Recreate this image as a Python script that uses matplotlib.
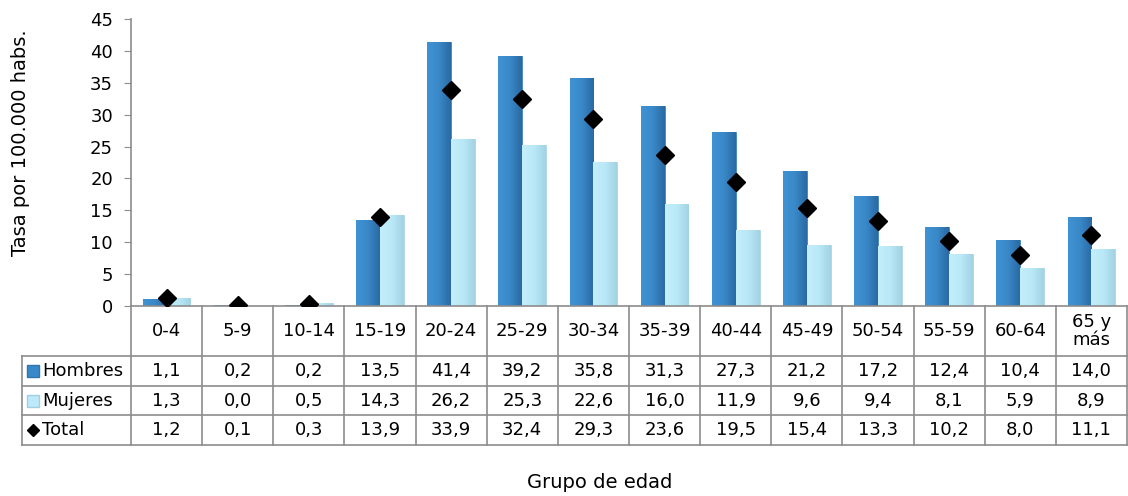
import numpy as np
import matplotlib
matplotlib.use('Agg')
import matplotlib.pyplot as plt
from matplotlib.colors import LinearSegmentedColormap

plt.rcParams['font.family'] = ['DejaVu Sans']

grupos = ['0-4', '5-9', '10-14', '15-19', '20-24', '25-29', '30-34', '35-39',
          '40-44', '45-49', '50-54', '55-59', '60-64', '65 y\nmás']
hombres = [1.1, 0.2, 0.2, 13.5, 41.4, 39.2, 35.8, 31.3, 27.3, 21.2, 17.2, 12.4, 10.4, 14.0]
mujeres = [1.3, 0.0, 0.5, 14.3, 26.2, 25.3, 22.6, 16.0, 11.9, 9.6, 9.4, 8.1, 5.9, 8.9]
total = [1.2, 0.1, 0.3, 13.9, 33.9, 32.4, 29.3, 23.6, 19.5, 15.4, 13.3, 10.2, 8.0, 11.1]
series = ['Hombres', 'Mujeres', 'Total']

W, H = 1128, 496
grid_col = '#8c8c8c'
fs = 13
fs_lab = 14

fig = plt.figure(figsize=(W / 100, H / 100), dpi=100)
ax = fig.add_axes([131 / W, (H - 306) / H, 996 / W, 287 / H])

n = len(grupos)
x = np.arange(n)
bw = 0.335

cm_h = LinearSegmentedColormap.from_list('h', ['#3f93d4', '#3a88c8', '#2a6aa3'])
cm_m = LinearSegmentedColormap.from_list('m', ['#c4eefb', '#b9e8f7', '#a3d2e3'])
grad = np.linspace(0, 1, 64).reshape(1, -1)

bars_h = ax.bar(x - bw / 2, hombres, bw, color='#3a88c8', edgecolor='#2f75b0', lw=0.5, zorder=2)
bars_m = ax.bar(x + bw / 2, mujeres, bw, color='#bde9f8', edgecolor='#9fcfe0', lw=0.5, zorder=2)
for bars, cm in ((bars_h, cm_h), (bars_m, cm_m)):
    for r in bars:
        if r.get_height() <= 0:
            continue
        im = ax.imshow(grad, extent=[r.get_x(), r.get_x() + r.get_width(), 0, r.get_height()],
                       aspect='auto', cmap=cm, zorder=2.5)
        im.set_clip_path(r)
ax.plot(x, total, 'D', color='black', markersize=9, zorder=4)

ax.set_xlim(-0.5, n - 0.5)
ax.set_ylim(0, 45)
ax.set_yticks(range(0, 46, 5))
ax.set_xticks([])
ax.tick_params(axis='y', labelsize=fs, length=5, pad=8, color=grid_col, direction='out')
for s in ('top', 'right'):
    ax.spines[s].set_visible(False)
for s in ('left', 'bottom'):
    ax.spines[s].set_color(grid_col)
    ax.spines[s].set_linewidth(1.2)

# tabla de datos
upp = 996 / n
x0 = -0.5 - 109 / upp
tax = fig.add_axes([22 / W, (H - 445) / H, 1105 / W, 139 / H])
tax.set_xlim(x0, n - 0.5)
tax.set_ylim(445, 306)
tax.axis('off')

rows_y = [356, 386, 415, 445]
kw = dict(color=grid_col, lw=1.2, clip_on=False)
for k in range(n + 1):
    tax.plot([k - 0.5, k - 0.5], [306, 445], **kw)
tax.plot([x0, x0], [356, 445], **kw)
for yy in rows_y:
    tax.plot([x0, n - 0.5], [yy, yy], **kw)

for i, g in enumerate(grupos):
    tax.text(i, 331, g, ha='center', va='center', fontsize=fs, linespacing=1.0)

vals = [hombres, mujeres, total]
for j, (name, v) in enumerate(zip(series, vals)):
    yc = (rows_y[j] + rows_y[j + 1]) / 2
    for i, val in enumerate(v):
        tax.text(i, yc, f'{val:.1f}'.replace('.', ','), ha='center', va='center', fontsize=fs)
    mx = x0 + 11 / upp
    if name == 'Total':
        tax.plot(mx, yc, 'D', color='black', markersize=6, clip_on=False)
    else:
        c = '#3a88c8' if name == 'Hombres' else '#bde9f8'
        ec = '#2f75b0' if name == 'Hombres' else '#9fcfe0'
        tax.plot(mx, yc, 's', color=c, mec=ec, markersize=9, clip_on=False)
    tax.text(x0 + 20 / upp, yc, name, ha='left', va='center', fontsize=fs)

fig.text(21 / W, (H - 143) / H, 'Tasa por 100.000 habs.', rotation=90,
         ha='center', va='center', fontsize=fs_lab)
fig.text(600 / W, (H - 482) / H, 'Grupo de edad', ha='center', va='center', fontsize=fs_lab)

fig.savefig('out.png', dpi=100)
